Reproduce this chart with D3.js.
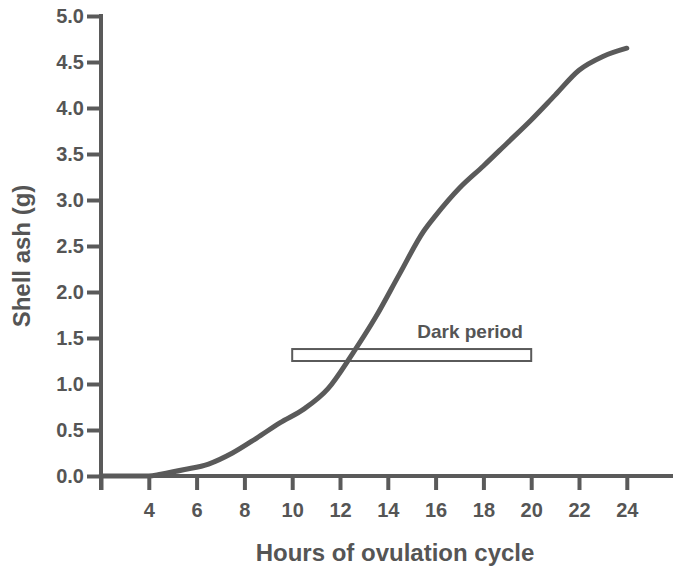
<!DOCTYPE html>
<html>
<head>
<meta charset="utf-8">
<script src="https://cdn.jsdelivr.net/npm/d3@7"></script>
<style>
  html, body { margin: 0; padding: 0; background: #ffffff; }
  svg { display: block; }
  text { font-family: "Liberation Sans", Arial, Helvetica, sans-serif; font-weight: bold; fill: #555555; }
</style>
</head>
<body>
<svg id="chart" width="673" height="567"></svg>
<script>
// Data
const hours = [2, 4, 4.5, 5.5, 6.5, 7.5, 8.5, 9.5, 10.5, 11.5, 12.5, 13.5, 14.5, 15.5, 16, 17, 18, 19, 20, 21, 22, 23, 24];
const shellAsh = [0, 0, 0.02, 0.07, 0.13, 0.25, 0.41, 0.58, 0.73, 0.95, 1.32, 1.73, 2.2, 2.66, 2.83, 3.13, 3.37, 3.62, 3.87, 4.14, 4.41, 4.56, 4.65];
const xTicks = [2, 4, 6, 8, 10, 12, 14, 16, 18, 20, 22, 24];
const yTicks = [0, 0.5, 1.0, 1.5, 2.0, 2.5, 3.0, 3.5, 4.0, 4.5, 5.0];
const darkPeriod = { start: 10, end: 20, low: 1.25, high: 1.38, label: "Dark period" };
const xTitle = "Hours of ovulation cycle";
const yTitle = "Shell ash (g)";

const ink = "#5a5a5a";
const svg = d3.select("#chart");

const x = d3.scaleLinear().domain([2, 26]).range([101, 674.6]);
const y = d3.scaleLinear().domain([0, 5]).range([476, 16]);

// X axis
const xAxis = d3.axisBottom(x)
  .tickValues(xTicks)
  .tickSize(14)
  .tickPadding(13)
  .tickFormat(d => d === 2 ? "" : d3.format("d")(d));
const gx = svg.append("g").attr("transform", `translate(0,${y(0)})`).call(xAxis);
gx.select(".domain").remove();
gx.selectAll(".tick line").attr("stroke", ink).attr("stroke-width", 4);
gx.selectAll(".tick text").attr("font-size", 20).style("fill", "#555");
svg.append("line")
  .attr("x1", x(2) - 2).attr("x2", 673)
  .attr("y1", y(0)).attr("y2", y(0))
  .attr("stroke", ink).attr("stroke-width", 4);

// Y axis
const yAxis = d3.axisLeft(y)
  .tickValues(yTicks)
  .tickSize(14)
  .tickPadding(3)
  .tickFormat(d3.format(".1f"));
const gy = svg.append("g").attr("transform", `translate(${x(2)},0)`).call(yAxis);
gy.select(".domain").remove();
gy.selectAll(".tick line").attr("stroke", ink).attr("stroke-width", 4);
gy.selectAll(".tick text").attr("font-size", 20).style("fill", "#555");
svg.append("line")
  .attr("x1", x(2)).attr("x2", x(2))
  .attr("y1", y(5) - 2).attr("y2", y(0) + 14)
  .attr("stroke", ink).attr("stroke-width", 4);

// Dark period bar
svg.append("rect")
  .attr("x", x(darkPeriod.start))
  .attr("y", y(darkPeriod.high))
  .attr("width", x(darkPeriod.end) - x(darkPeriod.start))
  .attr("height", y(darkPeriod.low) - y(darkPeriod.high))
  .attr("fill", "#ffffff")
  .attr("stroke", ink)
  .attr("stroke-width", 2);

svg.append("text")
  .attr("x", x(19.65))
  .attr("y", y(1.5))
  .attr("text-anchor", "end")
  .attr("font-size", 19)
  .text(darkPeriod.label);

// Curve
const line = d3.line()
  .x((d, i) => x(hours[i]))
  .y(d => y(d))
  .curve(d3.curveMonotoneX);
svg.append("path")
  .datum(shellAsh)
  .attr("d", line)
  .attr("fill", "none")
  .attr("stroke", ink)
  .attr("stroke-width", 5)
  .attr("stroke-linecap", "round")
  .attr("stroke-linejoin", "round");

// Titles
svg.append("text")
  .attr("x", 395)
  .attr("y", 561)
  .attr("text-anchor", "middle")
  .attr("font-size", 24)
  .text(xTitle);

svg.append("text")
  .attr("transform", "translate(30,256) rotate(-90)")
  .attr("text-anchor", "middle")
  .attr("font-size", 24)
  .text(yTitle);
</script>
</body>
</html>
